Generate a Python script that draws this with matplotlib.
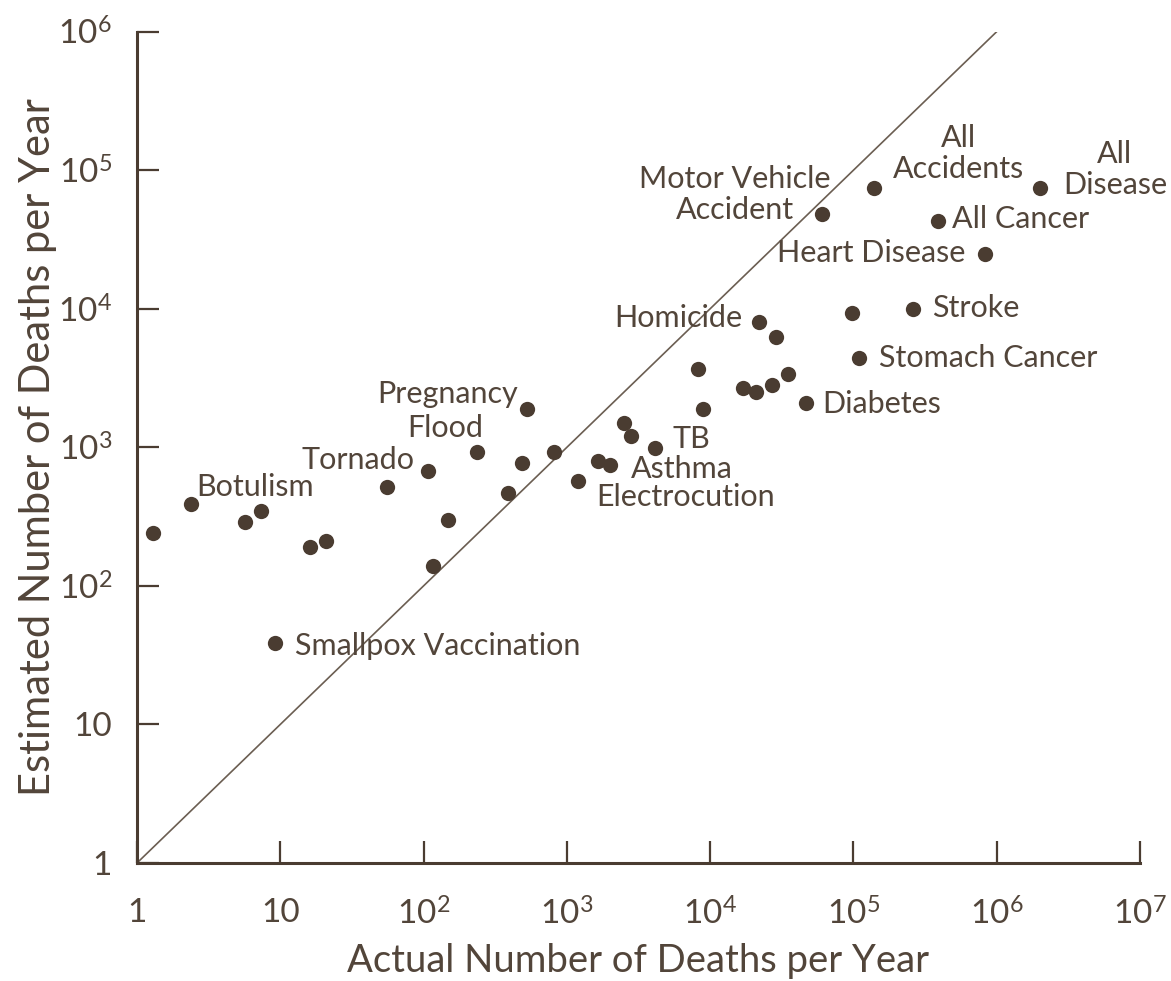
import matplotlib.pyplot as plt
from matplotlib.ticker import FixedLocator, FixedFormatter, NullLocator

plt.rcParams['font.family'] = ['Lato', 'DejaVu Sans']
plt.rcParams['mathtext.fontset'] = 'custom'
plt.rcParams['mathtext.rm'] = 'Lato'

# actual vs. estimated deaths per year for each hazard
actual = [1.3, 2.4, 5.7, 7.3, 16, 21, 56, 107, 116, 148,
          236, 530, 390, 490, 810, 1200, 1650, 2000, 2500, 2800,
          4100, 8200, 8900, 17000, 21000, 27000, 35000, 47000, 22000, 29000,
          98000, 260000, 110000, 830000, 390000, 60000, 140000, 2000000, 9.2]
estimated = [240, 390, 290, 350, 190, 210, 520, 680, 140, 300,
             930, 1900, 470, 770, 930, 570, 800, 750, 1500, 1200,
             990, 3700, 1900, 2700, 2500, 2800, 3400, 2100, 8000, 6300,
             9400, 10000, 4400, 25000, 43000, 48000, 75000, 75000, 39]
names = ['', 'Botulism', '', '', '', '', '', 'Tornado', '', '',
         'Flood', 'Pregnancy', '', '', '', 'Electrocution', '', 'Asthma', '', '',
         'TB', '', '', '', '', '', '', 'Diabetes', 'Homicide', '',
         '', 'Stroke', 'Stomach Cancer', 'Heart Disease', 'All Cancer',
         'Motor Vehicle\nAccident', 'All\nAccidents', 'All\nDisease', 'Smallpox Vaccination']

tick_vals = [1, 10, 1e2, 1e3, 1e4, 1e5, 1e6, 1e7]
tick_text = ['1', '10'] + [r'$\mathregular{10^{%d}}$' % k for k in range(2, 8)]

# label placement: offset in pixels and alignment
label_pos = {
    'Botulism': (5, 17, 'left'),
    'Tornado': (-13, 11, 'right'),
    'Flood': (6, 24, 'right'),
    'Pregnancy': (-9, 15, 'right'),
    'Smallpox Vaccination': (20, -3, 'left'),
    'TB': (18, 9, 'left'),
    'Asthma': (21, -4, 'left'),
    'Electrocution': (18, -16, 'left'),
    'Homicide': (-17, 4, 'right'),
    'Diabetes': (16, -1, 'left'),
    'Stomach Cancer': (20, 0, 'left'),
    'Stroke': (19, 1, 'left'),
    'Heart Disease': (-20, 1, 'right'),
    'All Cancer': (14, 2, 'left'),
    'Motor Vehicle\nAccident': (-87, 20, 'center'),
    'All\nAccidents': (84, 34, 'center'),
    'All\nDisease': (75, 18, 'center'),
}

ink = '#4a3c31'
text_col = '#52453a'

fig = plt.figure(figsize=(11.71, 9.81), dpi=100)
ax = fig.add_axes([0.117, 0.1203, 0.8565, 0.8474])
ax.set_xscale('log')
ax.set_yscale('log')
ax.set_xlim(1, 1e7)
ax.set_ylim(1, 1e6)

# line of perfect estimation
ax.plot([1, 1e6], [1, 1e6], color='#6b5e52', lw=1.2, zorder=1)

ax.plot(actual, estimated, 'o', color=ink, markersize=11, mec='none', zorder=3)

for xv, yv, nm in zip(actual, estimated, names):
    if not nm:
        continue
    dx, dy, ha = label_pos[nm]
    ax.annotate(nm, (xv, yv), xytext=(dx, dy), textcoords='offset pixels',
                ha=ha, va='center', fontsize=22, color=text_col,
                linespacing=1.15, multialignment='center')

for s in ['top', 'right']:
    ax.spines[s].set_visible(False)
for s in ['left', 'bottom']:
    ax.spines[s].set_color(ink)
    ax.spines[s].set_linewidth(2.2)

ax.xaxis.set_major_locator(FixedLocator(tick_vals))
ax.xaxis.set_major_formatter(FixedFormatter(tick_text))
ax.yaxis.set_major_locator(FixedLocator(tick_vals[:7]))
ax.yaxis.set_major_formatter(FixedFormatter(tick_text[:7]))
ax.xaxis.set_minor_locator(NullLocator())
ax.yaxis.set_minor_locator(NullLocator())
ax.tick_params(direction='in', length=16, width=1.6, color=ink,
               labelsize=24, labelcolor=text_col)
ax.tick_params(axis='x', pad=25)
ax.tick_params(axis='y', pad=18)

ax.set_xlabel('Actual Number of Deaths per Year', fontsize=27.5, color=text_col, labelpad=9)
ax.set_ylabel('Estimated Number of Deaths per Year', fontsize=30, color=text_col, labelpad=1)

fig.savefig('out.png', dpi=100)
